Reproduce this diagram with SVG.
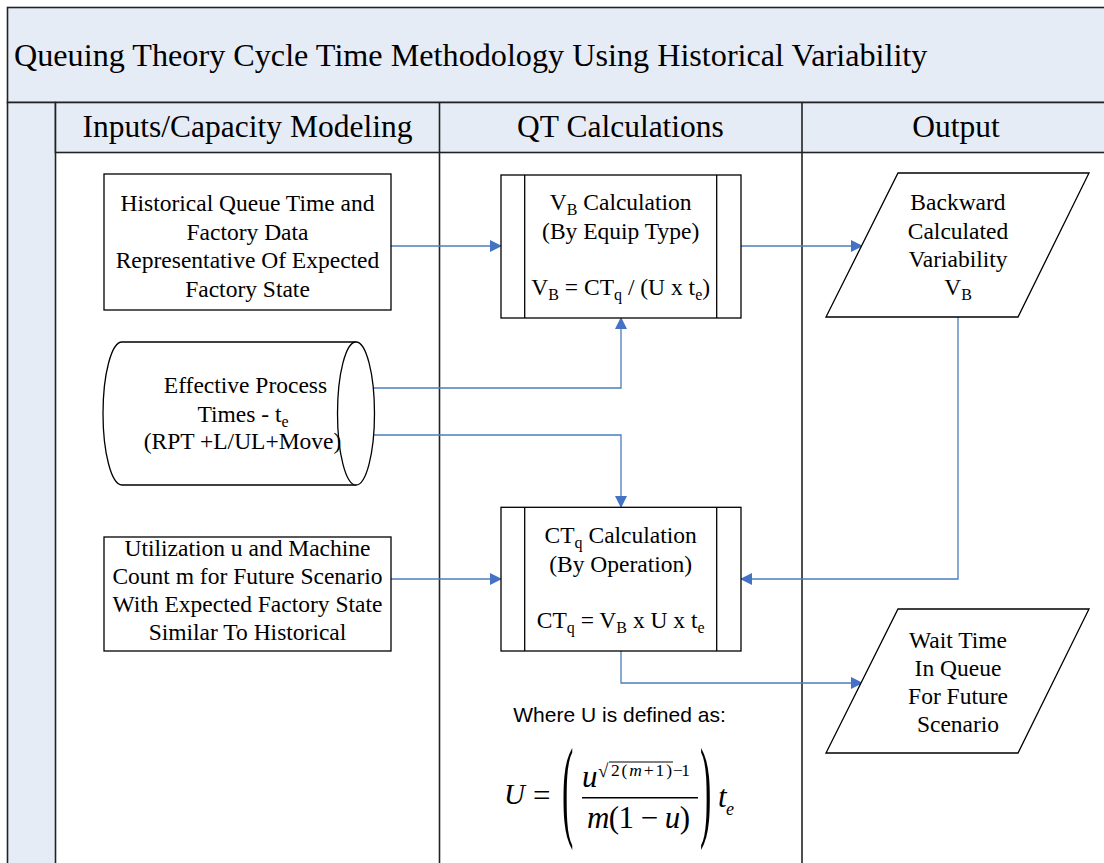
<svg xmlns="http://www.w3.org/2000/svg" width="1104" height="863" viewBox="0 0 1104 863">
<defs>
<style>
.band{fill:#E6ECF6;stroke:#222;stroke-width:1.6}
.ln{stroke:#222;stroke-width:1.6;fill:none}
.node{fill:#fff;stroke:#000;stroke-width:1.3}
.t{font-family:"Liberation Serif","Times New Roman",serif;fill:#000}
.nt{font-family:"Liberation Serif","Times New Roman",serif;font-size:23.5px;text-anchor:middle;fill:#000}
.sub{font-size:16px}
.hd{font-family:"Liberation Serif","Times New Roman",serif;font-size:31.5px;text-anchor:middle;fill:#000}
.con{stroke:#4A7EBB;stroke-width:1.3;fill:none}
.it{font-style:italic}
</style>
<marker id="ah" markerWidth="12" markerHeight="12" refX="11" refY="6" orient="auto" markerUnits="userSpaceOnUse">
<path d="M0,0 L12,6 L0,12 Z" fill="#4472C4"/>
</marker>
</defs>
<rect width="1104" height="863" fill="#fff"/>
<g id="swimlanes">
<rect class="band" x="7.5" y="7.5" width="1100" height="95"/>
<rect class="band" x="7.5" y="102.5" width="48" height="770"/>
<rect class="band" x="55.5" y="102.5" width="1052" height="50"/>
<line class="ln" x1="439.5" y1="102.5" x2="439.5" y2="863"/>
<line class="ln" x1="802" y1="102.5" x2="802" y2="863"/>
<text class="t" x="14" y="66" font-size="32.2">Queuing Theory Cycle Time Methodology Using Historical Variability</text>
<text class="hd" x="247.5" y="137">Inputs/Capacity Modeling</text>
<text class="hd" x="620.5" y="137">QT Calculations</text>
<text class="hd" x="956" y="137">Output</text>
</g>
<g id="connectors">
<path class="con" d="M391,246 H501" marker-end="url(#ah)"/>
<path class="con" d="M741,246 H862" marker-end="url(#ah)"/>
<path class="con" d="M373.8,388 H621 V318" marker-end="url(#ah)"/>
<path class="con" d="M373,435 H621 V507" marker-end="url(#ah)"/>
<path class="con" d="M391,579 H501" marker-end="url(#ah)"/>
<path class="con" d="M958,317 V579 H741" marker-end="url(#ah)"/>
<path class="con" d="M621,651 V683 H862" marker-end="url(#ah)"/>
</g>
<g id="historical">
<rect class="node" x="104" y="174" width="287" height="136"/>
<text class="nt" x="247.5" y="211">Historical Queue Time and</text>
<text class="nt" x="247.5" y="239.5">Factory Data</text>
<text class="nt" x="247.5" y="268">Representative Of  Expected</text>
<text class="nt" x="247.5" y="296.5">Factory State</text>
</g>
<g id="vb-calc">
<rect class="node" x="501" y="175" width="240" height="143"/>
<line x1="524.7" y1="175" x2="524.7" y2="318" stroke="#000" stroke-width="1.3"/>
<line x1="716.7" y1="175" x2="716.7" y2="318" stroke="#000" stroke-width="1.3"/>
<text class="nt" x="620.7" y="210">V<tspan class="sub" dy="5">B</tspan><tspan dy="-5"> Calculation</tspan></text>
<text class="nt" x="620.7" y="238.5">(By Equip Type)</text>
<text class="nt" x="620.7" y="295">V<tspan class="sub" dy="5">B</tspan><tspan dy="-5"> = CT</tspan><tspan class="sub" dy="5">q</tspan><tspan dy="-5"> / (U x t</tspan><tspan class="sub" dy="5">e</tspan><tspan dy="-5">)</tspan></text>
</g>
<g id="backward">
<polygon class="node" points="898,173 1089,173 1018,317 826,317"/>
<text class="nt" x="958" y="210">Backward</text>
<text class="nt" x="958" y="239">Calculated</text>
<text class="nt" x="958" y="267">Variability</text>
<text class="nt" x="958" y="295">V<tspan class="sub" dy="5">B</tspan></text>
</g>
<g id="effective">
<path class="node" d="M122,342 H356 A18.5,71.5 0 0 1 356,485 H122 A19,71.5 0 0 1 122,342 Z"/>
<path class="node" d="M356,342 A18.5,71.5 0 0 0 356,485" fill="none"/>
<text class="nt" x="245.5" y="393">Effective Process</text>
<text class="nt" x="243" y="421.5">Times - t<tspan class="sub" dy="5">e</tspan></text>
<text class="nt" x="242.5" y="449">(RPT +L/UL+Move)</text>
</g>
<g id="utilization">
<rect class="node" x="104" y="537" width="287" height="114"/>
<text class="nt" x="247.5" y="556">Utilization u and Machine</text>
<text class="nt" x="247.5" y="584">Count m for Future Scenario</text>
<text class="nt" x="247.5" y="612">With Expected Factory State</text>
<text class="nt" x="247.5" y="640">Similar To Historical</text>
</g>
<g id="ctq-calc">
<rect class="node" x="501" y="507.3" width="240" height="143.7"/>
<line x1="524.7" y1="507.3" x2="524.7" y2="651" stroke="#000" stroke-width="1.3"/>
<line x1="716.7" y1="507.3" x2="716.7" y2="651" stroke="#000" stroke-width="1.3"/>
<text class="nt" x="620.7" y="543.3">CT<tspan class="sub" dy="5">q</tspan><tspan dy="-5"> Calculation</tspan></text>
<text class="nt" x="620.7" y="571.7">(By Operation)</text>
<text class="nt" x="620.7" y="628.3">CT<tspan class="sub" dy="5">q</tspan><tspan dy="-5"> = V</tspan><tspan class="sub" dy="5">B</tspan><tspan dy="-5"> x U x t</tspan><tspan class="sub" dy="5">e</tspan></text>
</g>
<g id="wait-time">
<polygon class="node" points="898,609 1089,609 1018,753 826,753"/>
<text class="nt" x="958" y="648">Wait Time</text>
<text class="nt" x="958" y="676">In Queue</text>
<text class="nt" x="958" y="704">For Future</text>
<text class="nt" x="958" y="732">Scenario</text>
</g>
<g id="formula">
<text x="619.5" y="722" font-family="'Liberation Sans',Arial,sans-serif" font-size="21" text-anchor="middle" fill="#000">Where U is defined as:</text>
<text class="t it" x="504" y="804" font-size="29">U</text>
<text class="t" x="533" y="806" font-size="31">=</text>
<text class="t" transform="translate(562,826) scale(1,3.3)" font-size="34">(</text>
<text class="t" transform="translate(700,826) scale(1,3.3)" font-size="34">)</text>
<text class="t it" x="582" y="787" font-size="31">u</text>
<text class="t" x="598" y="777" font-size="19">√</text>
<line x1="609" y1="762" x2="673" y2="762" stroke="#000" stroke-width="1"/>
<text class="t" x="611" y="776" font-size="17.5" textLength="61">2(<tspan class="it">m</tspan>+1)</text>
<text class="t" x="673" y="776" font-size="17.5" textLength="17">−1</text>
<line x1="582" y1="797.7" x2="698" y2="797.7" stroke="#000" stroke-width="1.5"/>
<text class="t" x="587" y="828" font-size="31" textLength="103"><tspan class="it">m</tspan>(1 − <tspan class="it">u</tspan>)</text>
<text class="t it" x="718" y="807" font-size="31">t</text>
<text class="t it" x="726" y="815" font-size="18">e</text>
</g>
</svg>
